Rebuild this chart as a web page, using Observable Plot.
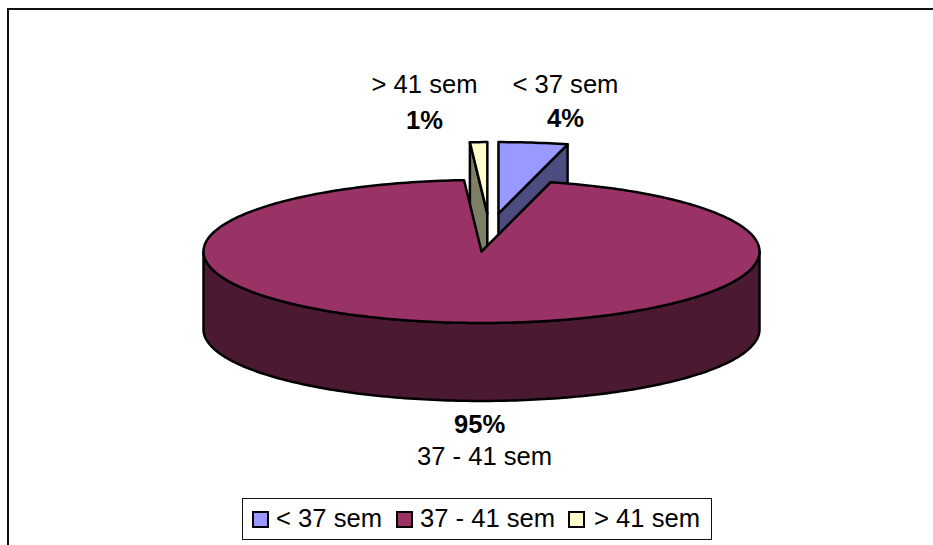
<!DOCTYPE html>
<html>
<head>
<meta charset="utf-8">
<script src="https://cdn.jsdelivr.net/npm/d3@7"></script>
<script src="https://cdn.jsdelivr.net/npm/@observablehq/plot@0.6"></script>
<style>
  html, body { margin: 0; padding: 0; width: 933px; height: 545px; overflow: hidden; background: #fff; }
  body { position: relative; font-family: "Liberation Sans", Arial, sans-serif; color: #000; }
  #frame { position: absolute; left: 7px; top: 8px; right: 0; bottom: 0; border-left: 2px solid #111; border-top: 2px solid #111; }
  #chart { position: absolute; left: 0; top: 0; }
  #legend { position: absolute; left: 242px; top: 498px; width: 468px; height: 40px; border: 1.5px solid #111; background: #fff; font-size: 25.6px; }
  #legend i { position: absolute; top: 12px; width: 13px; height: 13px; border: 2px solid #000; }
  #legend span { position: absolute; top: -1px; line-height: 40px; white-space: nowrap; }
</style>
</head>
<body>
<div id="frame"></div>
<div id="chart"></div>
<div id="legend"></div>
<script>
// Gestational age at delivery, share of births
const categories = ["< 37 sem", "37 - 41 sem", "> 41 sem"];
const shares = [4, 95, 1];
const shareLabels = ["4%", "95%", "1%"];
const faceColors = ["#9999FF", "#993366", "#FFFFCC"];
const sideColors = ["#4C4C7F", "#4C1933", "#7F7F66"];

// Pulled-out slices, in radii of the pie
const explodeX = [0.061, 0, 0.021];
const explodeY = [0.53, 0, 0.53];
const thickness = 1.09;

// Label placement, in radii of the pie
const nameX = [0.302, 0.011, -0.205];
const nameY = [2.335, -2.87, 2.335];
const shareX = [0.302, -0.007, -0.205];
const shareY = [1.86, -2.42, 1.83];

const total = d3.sum(shares);
const edges = d3.cumsum(shares).map((v) => (v / total) * 360);
const starts = [0, ...edges.slice(0, -1)];

const rim = (deg, i, drop = 0) => {
  const t = (deg * Math.PI) / 180;
  return { x: Math.sin(t) + explodeX[i], y: Math.cos(t) + explodeY[i] - drop };
};
const arc = (from, to, i, drop = 0) => {
  const n = Math.max(2, Math.ceil(to - from));
  return d3.range(n + 1).map((k) => rim(from + ((to - from) * k) / n, i, drop));
};
const apex = (i, drop = 0) => ({ x: explodeX[i], y: explodeY[i] - drop });

const topFace = (i) => [apex(i), ...arc(starts[i], edges[i], i), apex(i)];
const cutFace = (deg, i) => [apex(i), rim(deg, i), rim(deg, i, thickness), apex(i, thickness), apex(i)];
const wallFace = (from, to, i) => {
  const upper = arc(from, to, i);
  const lower = arc(from, to, i, thickness).reverse();
  return [...upper, ...lower, upper[0]];
};

const face = (points, fill) =>
  Plot.line(points, { x: "x", y: "y", fill, stroke: "#000", strokeWidth: 2.5, strokeLinejoin: "round" });

const labelRows = categories.flatMap((name, i) => [
  { text: name, x: nameX[i], y: nameY[i], weight: "normal" },
  { text: shareLabels[i], x: shareX[i], y: shareY[i], weight: "bold" }
]);

const plot = Plot.plot({
  width: 933,
  height: 490,
  margin: 0,
  style: { background: "transparent", overflow: "visible" },
  x: { domain: [-1, 1], range: [203, 759], axis: null },
  y: { domain: [-1, 1], range: [322.5, 179.5], axis: null },
  marks: [
    face(cutFace(edges[0], 0), sideColors[0]),
    face(topFace(0), faceColors[0]),
    face(cutFace(starts[2], 2), sideColors[2]),
    face(topFace(2), faceColors[2]),
    face(wallFace(90, 270, 1), sideColors[1]),
    face(topFace(1), faceColors[1]),
    Plot.text(labelRows.filter((d) => d.weight === "normal"), {
      x: "x", y: "y", text: "text", fontSize: 25.6, fill: "#000", fontFamily: "Liberation Sans", lineAnchor: "middle"
    }),
    Plot.text(labelRows.filter((d) => d.weight === "bold"), {
      x: "x", y: "y", text: "text", fontSize: 25.6, fontWeight: "bold", fill: "#000", fontFamily: "Liberation Sans", lineAnchor: "middle"
    })
  ]
});
document.getElementById("chart").append(plot);

// Legend row under the pie
const swatchLeft = [9, 153, 325];
const textLeft = [33, 177, 351];
const legend = document.getElementById("legend");
categories.forEach((name, i) => {
  const swatch = document.createElement("i");
  swatch.style.left = swatchLeft[i] + "px";
  swatch.style.background = faceColors[i];
  const label = document.createElement("span");
  label.style.left = textLeft[i] + "px";
  label.textContent = name;
  legend.append(swatch, label);
});
</script>
</body>
</html>
